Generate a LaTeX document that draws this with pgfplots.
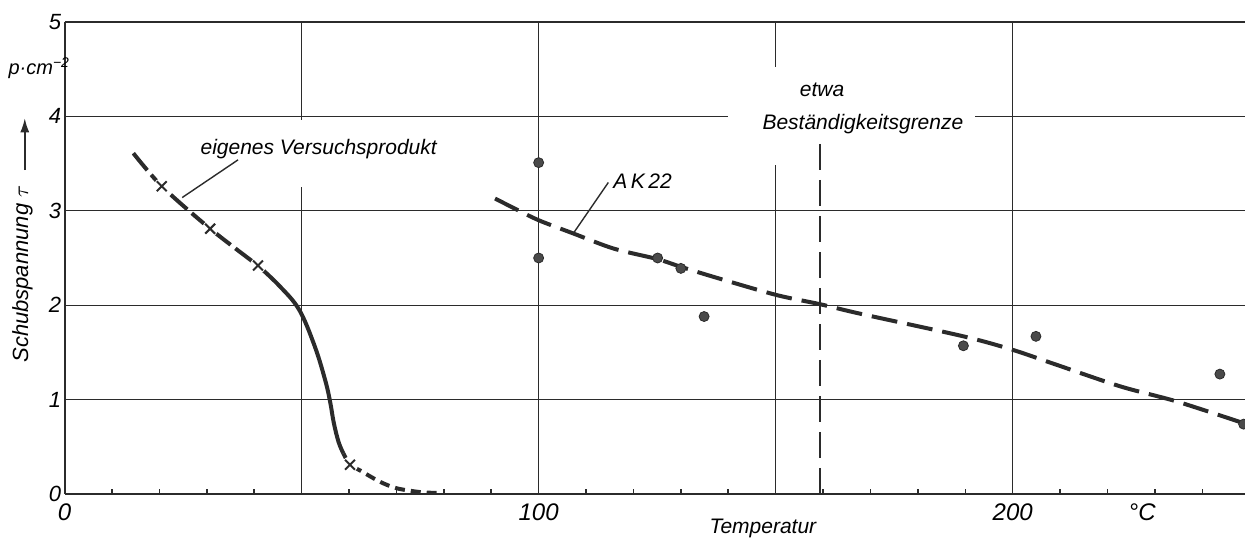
\documentclass[border=0pt]{standalone}
\usepackage{fontspec}
\setmainfont{Liberation Sans}
\usepackage{pgfplots}
\pgfplotsset{compat=1.18}
\usetikzlibrary{arrows.meta}
\definecolor{ink}{HTML}{2B2B2B}
\definecolor{dotgray}{HTML}{4A4A4A}

\begin{document}
\begin{tikzpicture}[font=\fontsize{10.5}{12}\selectfont\itshape]
\begin{axis}[name=ax, scale only axis, width=590.2pt, height=236pt,
  xmin=0, xmax=249, ymin=0, ymax=5, clip=false,
  axis lines*=left, axis line style={line width=1pt, ink},
  xtick={0,50,100,150,200}, xticklabels={0,,100,,200},
  minor xtick={10,20,30,40,60,70,80,90,110,120,130,140,160,170,180,190,210,220,230,240},
  ytick={0,1,2,3,4,5}, yticklabels={0,1,2,3,4,5},
  grid=major, major grid style={line width=0.6pt, ink},
  tick align=inside, major tick length=0pt, minor tick length=2.5pt,
  minor tick style={line width=0.8pt, ink},
  xticklabel style={anchor=north, inner sep=0pt, yshift=-4.5pt,
    font=\fontsize{12}{12}\selectfont\itshape},
  yticklabel style={anchor=east, inner sep=0pt, xshift=-1.5pt,
    font=\fontsize{11}{12}\selectfont\itshape},
]
% white gaps in the grid behind the labels
\fill[white] (axis cs:26.5,3.25) rectangle (axis cs:81.3,3.96);
\fill[white] (axis cs:139.9,3.49) rectangle (axis cs:192.1,4.52);

% eigenes Versuchsprodukt
\addplot[ink, line width=2pt, dash pattern=on 11pt off 3pt, smooth]
  coordinates {(14.5,3.61) (20.5,3.26) (30.7,2.81) (40.8,2.42)};
\addplot[ink, line width=2pt, smooth, tension=0.6]
  coordinates {(40.8,2.42) (45.4,2.20) (49.5,1.95) (52.8,1.56)
               (55.0,1.20) (56.0,0.98) (56.8,0.75) (57.8,0.55) (58.8,0.43)};
\addplot[ink, line width=2pt, dash pattern=on 5pt off 3pt, smooth]
  coordinates {(58.8,0.43) (60.2,0.31) (62.3,0.25) (66.5,0.13) (70.1,0.06)
               (75.0,0.02) (79.2,0.01)};
\addplot[only marks, mark=*, mark size=3.8pt, white]
  coordinates {(20.5,3.26) (30.7,2.81) (40.8,2.42) (60.2,0.31)};
\addplot[only marks, mark=x, mark size=3.5pt, ink, line width=1pt]
  coordinates {(20.5,3.26) (30.7,2.81) (40.8,2.42) (60.2,0.31)};

% AK22
\addplot[ink, line width=2pt, dash pattern=on 13pt off 5pt, smooth]
  coordinates {(90.8,3.13) (94.7,3.03) (100,2.90) (107.3,2.76) (115.8,2.60)
               (124.9,2.49) (129.8,2.41) (136.9,2.30) (150,2.11) (159.4,2.01)
               (167.8,1.91) (189.6,1.67) (199.8,1.53) (208.6,1.38) (222.7,1.14)
               (234.6,0.98) (248.7,0.75)};
\addplot[only marks, mark=*, mark size=2.5pt, fill=dotgray, draw=ink]
  coordinates {(100,3.51) (100,2.50) (125.1,2.50) (130.0,2.39) (134.9,1.88)
               (189.6,1.57) (204.9,1.67) (243.7,1.27) (248.7,0.74)};

% Bestaendigkeitsgrenze
\addplot[ink, line width=1pt, dash pattern=on 13pt off 5pt]
  coordinates {(159.4,3.71) (159.4,-0.1)};

% labels
\node[anchor=base] at (axis cs:53.6,3.60) {eigenes Versuchsprodukt};
\draw[ink, line width=0.7pt] (axis cs:36.6,3.54) -- (axis cs:24.8,3.14);
\node[anchor=base west, inner sep=0pt] at (axis cs:115.7,3.24) {A\,K\,22};
\draw[ink, line width=0.7pt] (axis cs:114.7,3.30) -- (axis cs:107.3,2.76);
\node[anchor=base] at (axis cs:159.8,4.21) {etwa};
\node[anchor=base] at (axis cs:168.4,3.86) {Beständigkeitsgrenze};
\node[anchor=north, inner sep=0pt, yshift=-4.5pt] at (axis cs:227.3,0)
  {\fontsize{12}{12}\selectfont °C};
\node[anchor=north, inner sep=0pt, yshift=-12.5pt] at (axis cs:147.3,0) {Temperatur};
\node[rotate=90, anchor=base] at (axis cs:-7.72,2.33)
  {\fontsize{11}{12}\selectfont Schubspannung $\tau$};
\draw[-{Latex[length=7pt,width=4.5pt]}, line width=0.8pt, ink]
  (axis cs:-8.4,3.43) -- (axis cs:-8.4,3.98);
\node[anchor=base west, inner sep=0pt] at (axis cs:-11.9,4.44)
  {\fontsize{10}{12}\selectfont p·cm\textsuperscript{−2}};
\end{axis}
\pgfresetboundingbox
\path ([xshift=-32.3pt,yshift=-23pt]ax.south west) rectangle ([yshift=11pt]ax.north east);
\end{tikzpicture}
\end{document}
